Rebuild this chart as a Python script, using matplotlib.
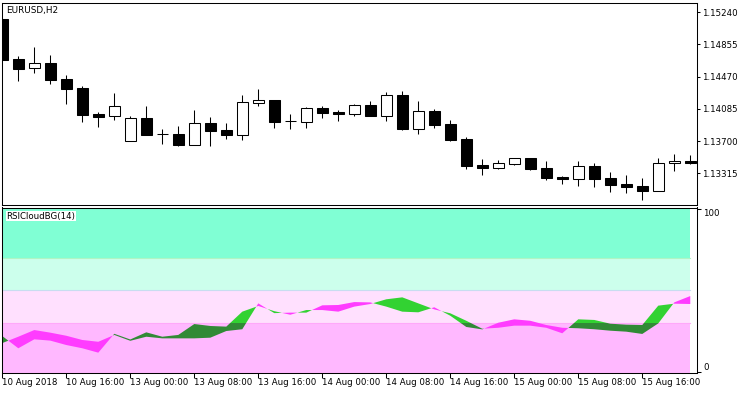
import numpy as np
import matplotlib.pyplot as plt
from matplotlib.patches import Rectangle

plt.rcParams['font.family'] = ['DejaVu Sans']
plt.rcParams['font.size'] = 6.2

# EURUSD H2 bars, 10 Aug 2018 08:00 .. 15 Aug 2018 22:00
opens = [1.15160, 1.14682, 1.14571, 1.14630, 1.14439, 1.14335, 1.14024, 1.13997, 1.13705, 1.13973,
         1.13785, 1.13785, 1.13657, 1.13913, 1.13829, 1.13777, 1.14159, 1.14188, 1.13937, 1.13932,
         1.14092, 1.14044, 1.14028, 1.14128, 1.14004, 1.14248, 1.13848, 1.14056, 1.13905, 1.13725,
         1.13414, 1.13382, 1.13430, 1.13498, 1.13379, 1.13271, 1.13251, 1.13402, 1.13259, 1.13187,
         1.13163, 1.13107, 1.13435, 1.13462]
highs = [1.15166, 1.14718, 1.14825, 1.14730, 1.14490, 1.14359, 1.14048, 1.14275, 1.14000, 1.14120,
         1.13845, 1.13881, 1.14072, 1.13988, 1.13917, 1.14251, 1.14323, 1.14188, 1.14024, 1.14104,
         1.14120, 1.14072, 1.14144, 1.14180, 1.14287, 1.14299, 1.14180, 1.14084, 1.13952, 1.13749,
         1.13486, 1.13474, 1.13495, 1.13498, 1.13462, 1.13283, 1.13462, 1.13438, 1.13331, 1.13295,
         1.13259, 1.13498, 1.13546, 1.13534]
lows = [1.14670, 1.14422, 1.14518, 1.14386, 1.14147, 1.13932, 1.13872, 1.13956, 1.13705, 1.13777,
        1.13669, 1.13645, 1.13657, 1.13642, 1.13725, 1.13717, 1.14123, 1.13860, 1.13848, 1.13860,
        1.13980, 1.13944, 1.14004, 1.14004, 1.13940, 1.13833, 1.13789, 1.13860, 1.13705, 1.13370,
        1.13298, 1.13370, 1.13418, 1.13355, 1.13239, 1.13191, 1.13167, 1.13155, 1.13095, 1.13083,
        1.13000, 1.13107, 1.13346, 1.13430]
closes = [1.14670, 1.14566, 1.14630, 1.14434, 1.14327, 1.14016, 1.13992, 1.14120, 1.13973, 1.13777,
          1.13785, 1.13657, 1.13913, 1.13825, 1.13777, 1.14164, 1.14188, 1.13932, 1.13937, 1.14092,
          1.14040, 1.14028, 1.14128, 1.14004, 1.14248, 1.13848, 1.14056, 1.13896, 1.13717, 1.13406,
          1.13382, 1.13438, 1.13495, 1.13367, 1.13259, 1.13251, 1.13399, 1.13251, 1.13179, 1.13155,
          1.13107, 1.13438, 1.13462, 1.13442]

# the two lines of the RSI cloud
rsi = [21.9, 14.4, 19.9, 19.1, 16.4, 14.4, 11.7, 23.3, 19.8, 24.2,
       21.5, 22.6, 29.3, 28.1, 27.7, 36.9, 40.4, 37.2, 35.0, 37.9,
       37.9, 36.9, 40.0, 41.6, 44.5, 45.7, 42.0, 38.3, 35.9, 31.3,
       26.4, 27.0, 28.3, 28.3, 27.0, 23.6, 32.2, 31.8, 29.5, 28.9,
       28.7, 40.6, 41.8, 41.6]
rsi_signal = [17.6, 21.5, 25.6, 24.0, 22.1, 19.5, 18.4, 22.6, 19.0, 21.5,
              20.5, 20.5, 20.5, 20.9, 25.0, 26.1, 42.0, 36.0, 36.3, 36.3,
              40.8, 41.0, 42.8, 42.6, 40.0, 36.9, 36.5, 39.6, 34.4, 27.5,
              26.0, 30.1, 32.2, 31.3, 28.7, 27.0, 26.7, 26.1, 25.2, 24.6,
              23.2, 29.7, 42.6, 46.5]

levels = [30, 50, 70]
price_ticks = [1.13315, 1.13700, 1.14085, 1.14470, 1.14855, 1.15240]
time_labels = ['10 Aug 2018', '10 Aug 16:00', '13 Aug 00:00', '13 Aug 08:00', '13 Aug 16:00',
               '14 Aug 00:00', '14 Aug 08:00', '14 Aug 16:00', '15 Aug 00:00', '15 Aug 08:00',
               '15 Aug 16:00']

o = np.array(opens); h = np.array(highs); l = np.array(lows); c = np.array(closes)
a = np.array(rsi); b = np.array(rsi_signal)
x = np.arange(len(o))

W, H = 750, 394
fig = plt.figure(figsize=(7.5, 3.94), dpi=100)
left = 2.3 / W
width = (697 - 2.3) / W
ax1 = fig.add_axes([left, (H - 205) / H, width, (205 - 2.5) / H])
ax2 = fig.add_axes([left, (H - 372.5) / H, width, (372.5 - 207.5) / H])

lw = 0.75
xmax = 43.42

# ---- candles
ax1.vlines(x, l, h, color='black', lw=lw, zorder=2)
up = c > o
body_lo = np.minimum(o, c)
body_h = np.abs(c - o)
ax1.bar(x, body_h, bottom=body_lo, width=0.69, color=np.where(up, 'white', 'black'),
        edgecolor='black', linewidth=lw, zorder=3)

ax1.set_xlim(0, xmax)
ax1.set_ylim(1.12936, 1.15357)
ax1.set_xticks([])
ax1.yaxis.tick_right()
ax1.set_yticks(price_ticks)
ax1.set_yticklabels(['%.5f' % p for p in price_ticks])
ax1.tick_params(axis='y', direction='out', length=2.5, width=lw, pad=1)
ax1.text(0.006, 0.985, 'EURUSD,H2', transform=ax1.transAxes, ha='left', va='top', fontsize=6.4)

# ---- RSI cloud panel
ax2.set_xlim(0, xmax)
ax2.set_ylim(-0.49, 100.92)
y0, y1 = ax2.get_ylim()
band_edges = [y0] + levels + [y1]
band_colors = ['#FFB8FF', '#FFE0FE', '#CCFFEC', '#80FFD4']
for lo, hi, col in zip(band_edges[:-1], band_edges[1:], band_colors):
    ax2.fill_between([x[0], x[-1]], lo, hi, color=col, lw=0, zorder=1)
for lev, col in zip(levels, ['#FFA8FA', '#C8DDF0', '#B0F5C4']):
    ax2.plot([x[0], x[-1]], [lev, lev], color=col, lw=0.8, zorder=1.5)

green_up = ax2.fill_between(x, a, b, where=a >= b, interpolate=True, color='#32D232', lw=0, zorder=2)
green_dn = ax2.fill_between(x, a, b, where=a >= b, interpolate=True, color='#318A36', lw=0, zorder=2)
green_up.set_clip_path(Rectangle((0, 30), xmax, 100, transform=ax2.transData))
green_dn.set_clip_path(Rectangle((0, -10), xmax, 40, transform=ax2.transData))
ax2.fill_between(x, a, b, where=a < b, interpolate=True, color='#FF3CFF', lw=0, zorder=2)

ax2.yaxis.tick_right()
ax2.set_yticks([0, 100])
ax2.set_yticklabels(['0', '100'])
ax2.tick_params(axis='y', direction='out', length=3, width=lw, pad=1.5)
for t in ax2.get_yticklabels():
    t.set_verticalalignment('bottom' if t.get_text() == '0' else 'top')

ax2.set_xticks(x[::4])
ax2.set_xticklabels(time_labels, ha='left')
ax2.tick_params(axis='x', direction='out', length=3.5, width=lw, pad=0.5)
ax2.text(0.006, 0.975, 'RSICloudBG(14)', transform=ax2.transAxes, ha='left', va='top',
         fontsize=6.2, bbox=dict(facecolor='white', edgecolor='none', pad=0.6), zorder=5)

for ax in (ax1, ax2):
    for s in ax.spines.values():
        s.set_linewidth(lw)
        s.set_color('black')
        s.set_zorder(6)

fig.savefig('out.png', dpi=100)
